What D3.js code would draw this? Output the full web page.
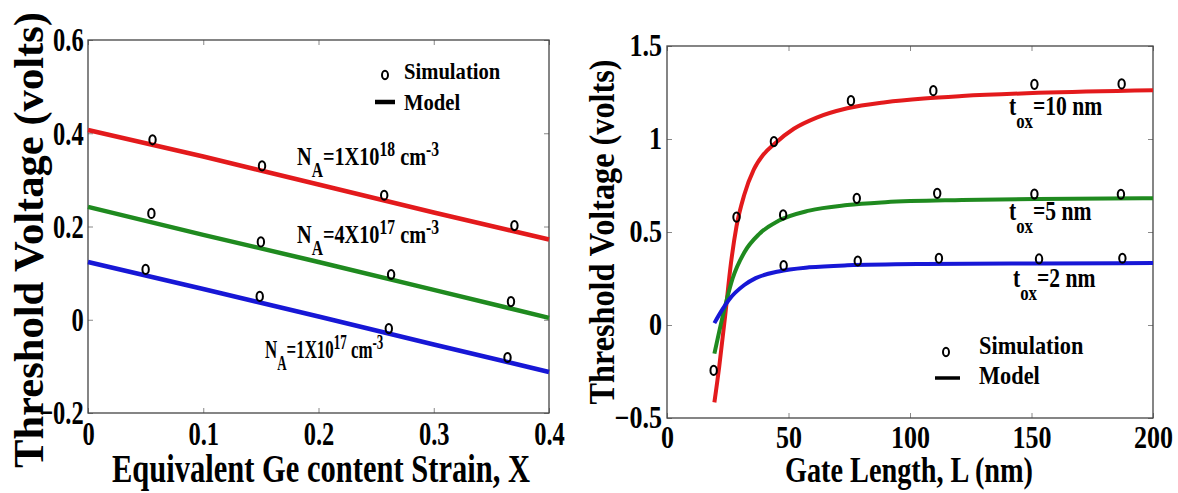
<!DOCTYPE html>
<html>
<head>
<meta charset="utf-8">
<script src="https://cdn.jsdelivr.net/npm/d3@7/dist/d3.min.js"></script>
<style>
  body { margin: 0; background: #fff; }
  svg { display: block; }
  text { font-family: "Liberation Serif", "Times New Roman", serif; font-weight: bold; fill: #000; }
</style>
</head>
<body>
<svg id="chart" width="1178" height="493"></svg>
<script>
// ---- left panel data: Vt vs strain ----
let strainX = [0, 0.1, 0.2, 0.3, 0.4];
let modelNa1e18 = [0.407, 0.350, 0.290, 0.230, 0.172];
let modelNa4e17 = [0.242, 0.182, 0.124, 0.064, 0.004];
let modelNa1e17 = [0.124, 0.066, 0.007, -0.053, -0.112];

let simX1e18 = [0.056, 0.151, 0.257, 0.370];
let simNa1e18 = [0.386, 0.330, 0.267, 0.202];
let simX4e17 = [0.055, 0.150, 0.263, 0.367];
let simNa4e17 = [0.228, 0.167, 0.097, 0.039];
let simX1e17 = [0.050, 0.149, 0.261, 0.364];
let simNa1e17 = [0.108, 0.050, -0.019, -0.081];

let strainTicks = [0, 0.1, 0.2, 0.3, 0.4];
let vtTicksLeft = [-0.2, 0, 0.2, 0.4, 0.6];

// ---- right panel data: Vt vs gate length ----
let gateLRed = [19.5, 21.5, 23.9, 26.3, 28.6, 31.8, 35.7, 39.6, 44.3, 52.2, 61.6, 74.2, 89.9, 105.7, 121.4, 152.8, 200];
let modelTox10 = [-0.416, -0.223, 0.046, 0.33, 0.53, 0.70, 0.835, 0.915, 0.975, 1.055, 1.115, 1.165, 1.198, 1.218, 1.231, 1.248, 1.262];
let gateLGreen = [19.5, 24.4, 27, 31.8, 38, 45.9, 58.5, 74.2, 89.9, 121.4, 152.8, 200];
let modelTox5 = [-0.154, 0.127, 0.25, 0.39, 0.49, 0.56, 0.615, 0.645, 0.66, 0.672, 0.678, 0.682];
let gateLBlue = [19.5, 22.3, 25.5, 31.8, 36.5, 45.9, 58.5, 74.2, 105.7, 152.8, 200];
let modelTox2 = [0.01, 0.073, 0.136, 0.215, 0.252, 0.288, 0.31, 0.321, 0.328, 0.331, 0.333];

let simLTox10 = [19.2, 28.6, 44.0, 75.7, 109.6, 151.2, 187.1];
let simTox10 = [-0.244, 0.58, 0.986, 1.206, 1.26, 1.294, 1.296];
let simLTox5 = [47.8, 78.1, 111.2, 151.2, 186.8];
let simTox5 = [0.592, 0.681, 0.708, 0.704, 0.703];
let simLTox2 = [48, 78.5, 111.9, 153.1, 187.4];
let simTox2 = [0.32, 0.344, 0.359, 0.355, 0.359];

let gateTicks = [0, 50, 100, 150, 200];
let vtTicksRight = [-0.5, 0, 0.5, 1, 1.5];

let red = "#e31a1c", green = "#1f8a1f", blue = "#1717d6";
let serif = '"Liberation Serif", "Times New Roman", serif';

let svg = d3.select("#chart");

// draw one framed panel with inward ticks on all four sides
let drawFrame = (x, y, xTicks, yTicks, fontSize, sx, fmtX, fmtY) => {
    let g = svg.append("g");
    let [x0, x1] = x.range(), [y0, y1] = y.range();

    g.append("g").attr("class", "ax").attr("transform", `translate(0,${y0})`)
     .call(d3.axisBottom(x).tickValues(xTicks).tickSize(-5).tickPadding(8).tickFormat(fmtX));
    g.append("g").attr("class", "ax").attr("transform", `translate(${x0},0)`)
     .call(d3.axisLeft(y).tickValues(yTicks).tickSize(-5).tickPadding(6).tickFormat(fmtY));
    g.append("g").attr("transform", `translate(0,${y1})`)
     .call(d3.axisTop(x).tickValues(xTicks).tickSize(-5).tickFormat(""));
    g.append("g").attr("transform", `translate(${x1},0)`)
     .call(d3.axisRight(y).tickValues(yTicks).tickSize(-5).tickFormat(""));

    g.selectAll(".ax").attr("font-family", serif).attr("font-size", fontSize).attr("font-weight", "bold");
    g.selectAll(".domain").remove();
    g.selectAll(".tick line").attr("stroke", "#888").attr("stroke-width", 1);
    g.selectAll(".tick text")
     .attr("font-family", serif)
     .attr("font-size", fontSize)
     .attr("font-weight", "bold")
     .attr("fill", "#000")
     .attr("transform", `scale(${sx},1)`);

    g.append("rect")
     .attr("x", x0).attr("y", y1)
     .attr("width", x1 - x0).attr("height", y0 - y1)
     .attr("fill", "none").attr("stroke", "#444").attr("stroke-width", 1.3);
    return g;
};

let circles = (g, x, y, xs, ys) => {
    g.selectAll(null)
     .data(xs.map((d, i) => [d, ys[i]]))
     .enter()
     .append("ellipse")
     .attr("cx", d => x(d[0]))
     .attr("cy", d => y(d[1]))
     .attr("rx", 3.2).attr("ry", 4.6)
     .attr("fill", "none").attr("stroke", "#000").attr("stroke-width", 2);
};

let curve = (g, x, y, xs, ys, color, width, c) => {
    g.append("path")
     .datum(xs.map((d, i) => [d, ys[i]]))
     .attr("fill", "none")
     .attr("stroke", color)
     .attr("stroke-width", width)
     .attr("d", d3.line().x(d => x(d[0])).y(d => y(d[1])).curve(c));
};

// label with sub/superscripts: parts = [[text, size, dy], ...]
let label = (px, py, sx, parts) => {
    let t = svg.append("text").attr("transform", `translate(${px},${py}) scale(${sx},1)`);
    parts.forEach(p => t.append("tspan").attr("font-size", p[1]).attr("dy", p[2]).text(p[0]));
    return t;
};

let title = (px, py, rot, size, len, str) => {
    svg.append("text")
       .attr("transform", `translate(${px},${py}) rotate(${rot})`)
       .attr("text-anchor", "middle")
       .attr("font-size", size)
       .attr("textLength", len)
       .attr("lengthAdjust", "spacingAndGlyphs")
       .text(str);
};

// ---------------- left panel ----------------
let xL = d3.scaleLinear().domain([0, 0.4]).range([88, 549]);
let yL = d3.scaleLinear().domain([-0.2, 0.6]).range([413, 40]);
let fmt1 = d => d === 0 ? "0" : d3.format(".1f")(d);
let gL = drawFrame(xL, yL, strainTicks, vtTicksLeft, 34, 0.72, fmt1, fmt1);

curve(gL, xL, yL, strainX, modelNa1e18, red, 4.5, d3.curveLinear);
curve(gL, xL, yL, strainX, modelNa4e17, green, 4.5, d3.curveLinear);
curve(gL, xL, yL, strainX, modelNa1e17, blue, 4.5, d3.curveLinear);
circles(gL, xL, yL, simX1e18, simNa1e18);
circles(gL, xL, yL, simX4e17, simNa4e17);
circles(gL, xL, yL, simX1e17, simNa1e17);

// legend
svg.append("ellipse").attr("cx", 385).attr("cy", 75).attr("rx", 3).attr("ry", 4.3)
   .attr("fill", "none").attr("stroke", "#000").attr("stroke-width", 2);
svg.append("line").attr("x1", 375).attr("x2", 395).attr("y1", 102).attr("y2", 102)
   .attr("stroke", "#000").attr("stroke-width", 4.5);
label(404, 79, 0.86, [["Simulation", 24, 0]]);
label(404, 110, 0.86, [["Model", 24, 0]]);

let naParts = (mant, exp) => [["N", 26, 0], ["A", 20, 12], ["=" + mant + "X10", 26, -12], [exp, 20, -9], [" cm", 26, 9], ["-3", 20, -9]];
label(297, 165, 0.78, naParts("1", "18"));
label(297, 243, 0.78, naParts("4", "17"));
label(265, 358, 0.65, naParts("1", "17"));

title(43, 240, -90, 43, 456, "Threshold Voltage (volts)");
title(321, 482, 0, 40, 418, "Equivalent Ge content Strain, X");

// ---------------- right panel ----------------
let xR = d3.scaleLinear().domain([0, 200]).range([667, 1153]);
let yR = d3.scaleLinear().domain([-0.5, 1.5]).range([418, 46]);
let gR = drawFrame(xR, yR, gateTicks, vtTicksRight, 31, 0.84, d3.format("d"), d => d3.format("")(d));

curve(gR, xR, yR, gateLRed, modelTox10, red, 4, d3.curveMonotoneX);
curve(gR, xR, yR, gateLGreen, modelTox5, green, 4, d3.curveMonotoneX);
curve(gR, xR, yR, gateLBlue, modelTox2, blue, 4, d3.curveMonotoneX);
circles(gR, xR, yR, simLTox10, simTox10);
circles(gR, xR, yR, simLTox5, simTox5);
circles(gR, xR, yR, simLTox2, simTox2);

let toxParts = (v) => [["t", 27, 0], ["ox", 21, 13], ["=" + v + " nm", 27, -13]];
label(1009, 115, 0.8, toxParts("10"));
label(1009, 220, 0.8, toxParts("5"));
label(1013, 287, 0.8, toxParts("2"));

svg.append("ellipse").attr("cx", 946).attr("cy", 352).attr("rx", 3).attr("ry", 4.3)
   .attr("fill", "none").attr("stroke", "#000").attr("stroke-width", 2);
svg.append("line").attr("x1", 935).attr("x2", 960).attr("y1", 378).attr("y2", 378)
   .attr("stroke", "#000").attr("stroke-width", 3.5);
label(979, 354, 0.86, [["Simulation", 26, 0]]);
label(979, 384, 0.86, [["Model", 26, 0]]);

title(614, 232, -90, 36, 345, "Threshold Voltage (volts)");
title(909, 482, 0, 35, 248, "Gate Length, L (nm)");
</script>
</body>
</html>
